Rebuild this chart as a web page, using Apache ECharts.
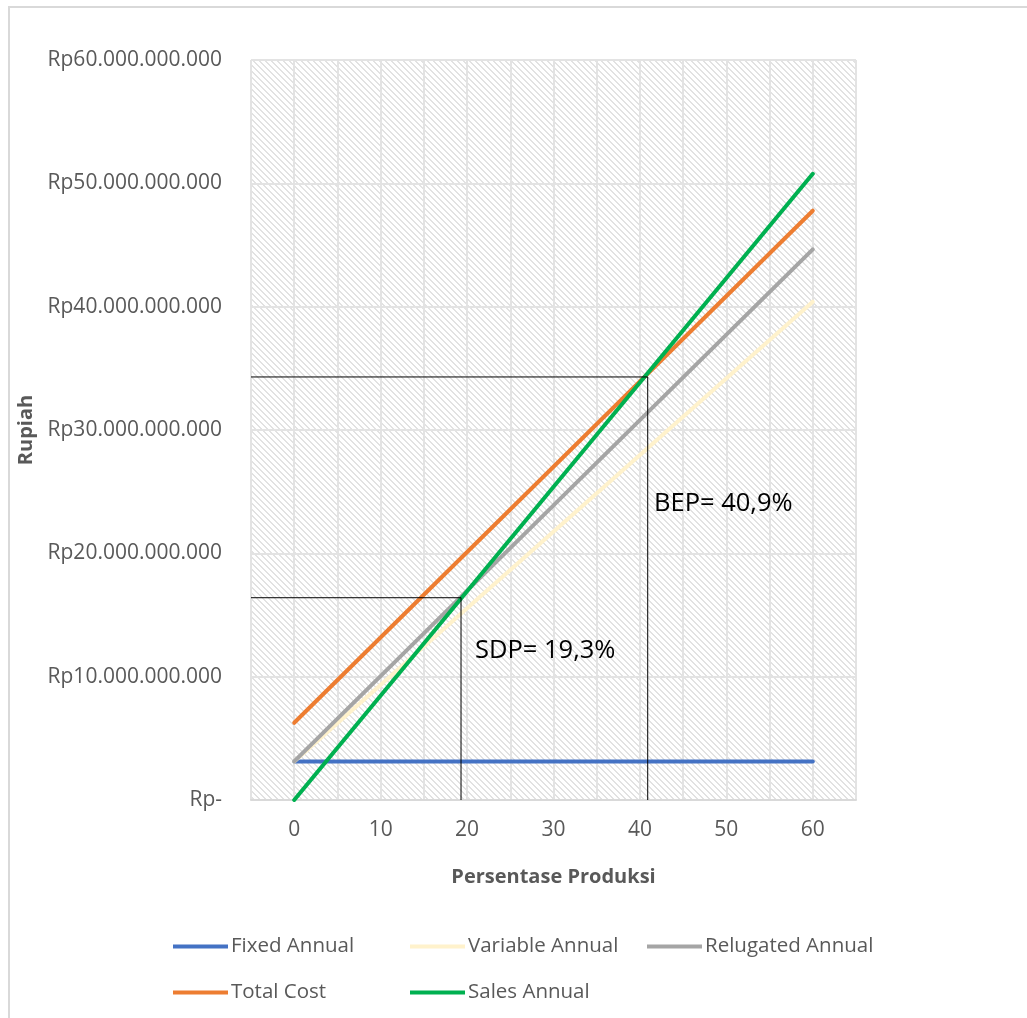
<!DOCTYPE html>
<html>
<head>
<meta charset="utf-8">
<script src="https://cdn.jsdelivr.net/npm/echarts@6/dist/echarts.min.js"></script>
<style>
  html, body { margin: 0; padding: 0; background: #fff; }
  #chart { width: 1027px; height: 1018px; }
</style>
</head>
<body>
<div id="chart"></div>
<script>
// Production share (%) at the two ends of each line
const produksi = [0, 60];

// Annual amounts in Rupiah
const fixedAnnual = [3.13e9, 3.13e9];
const variableAnnual = [3.13e9, 40.4e9];
const relugatedAnnual = [3.13e9, 44.65e9];
const totalCost = [6.26e9, 47.78e9];
const salesAnnual = [0, 50.77e9];

// Break-even and shutdown points: [% produksi, Rupiah]
const bep = [40.9, 34.3e9];
const sdp = [19.3, 16.4e9];

const seriesNames = ['Fixed Annual', 'Variable Annual', 'Relugated Annual', 'Total Cost', 'Sales Annual'];
const seriesValues = [fixedAnnual, variableAnnual, relugatedAnnual, totalCost, salesAnnual];
const seriesColors = ['#4472C4', '#FFF2CC', '#A5A5A5', '#ED7D31', '#00B050'];

const xMin = -5, xMax = 65;

function pairs(xs, ys) {
  return xs.map((x, i) => [x, ys[i]]);
}

function rupiah(v) {
  if (v === 0) return 'Rp-';
  const s = Math.round(v).toString();
  return 'Rp' + s.replace(/\B(?=(\d{3})+(?!\d))/g, '.');
}

// Diagonal hatch for the plot background
function hatch() {
  const c = document.createElement('canvas');
  c.width = 6; c.height = 6;
  const ctx = c.getContext('2d');
  ctx.fillStyle = '#ffffff';
  ctx.fillRect(0, 0, 6, 6);
  ctx.fillStyle = '#e2e2e2';
  for (let y = 0; y < 6; y++) {
    for (let x = 0; x < 6; x++) {
      if ((((x - y) % 6) + 6) % 6 < 2) ctx.fillRect(x, y, 1, 1);
    }
  }
  return c;
}

const font = '"Open Sans", "Noto Sans", sans-serif';
const textGrey = '#595959';

const series = seriesNames.map((name, i) => ({
  name: name,
  type: 'line',
  data: pairs(produksi, seriesValues[i]),
  showSymbol: false,
  symbol: 'none',
  lineStyle: { color: seriesColors[i], width: 4, cap: 'round' },
  itemStyle: { color: seriesColors[i] },
  silent: true,
  z: 3 + i
}));

function guide(pt) {
  return {
    type: 'line',
    data: [[xMin, pt[1]], [pt[0], pt[1]], [pt[0], 0]],
    showSymbol: false,
    symbol: 'none',
    lineStyle: { color: '#000', width: 1 },
    silent: true,
    z: 10
  };
}
series.push(guide(bep), guide(sdp));

// Legend laid out as a 3-column grid, one legend block per entry
const legendCols = [168, 405, 642];
const legendRows = [931, 977];
const legends = seriesNames.map((name, i) => ({
  left: legendCols[i % 3],
  top: legendRows[Math.floor(i / 3)],
  data: [name],
  icon: 'rect',
  itemWidth: 55,
  itemHeight: 4,
  selectedMode: false,
  textStyle: { fontFamily: font, fontSize: 20.5, color: textGrey, padding: [0, 0, 0, -2] }
}));

const chart = echarts.init(document.getElementById('chart'), null, { renderer: 'canvas' });
chart.setOption({
  backgroundColor: '#ffffff',
  animation: false,
  grid: {
    left: 251, right: 171, top: 60, bottom: 218,
    show: true,
    borderWidth: 0,
    backgroundColor: { image: hatch(), repeat: 'repeat' }
  },
  legend: legends,
  xAxis: {
    type: 'value',
    min: xMin, max: xMax, interval: 5,
    name: 'Persentase Produksi',
    nameLocation: 'middle',
    nameGap: 67,
    nameTextStyle: { fontFamily: font, fontSize: 20, fontWeight: 'bold', color: textGrey },
    axisLine: { show: true, lineStyle: { color: '#d9d9d9', width: 2 } },
    axisTick: { show: false },
    axisLabel: {
      fontFamily: font, fontSize: 21, color: textGrey, margin: 20,
      formatter: v => (v >= 0 && v <= 60 && v % 10 === 0) ? String(v) : ''
    },
    splitLine: { show: true, lineStyle: { color: '#e3e3e3', width: 2 } }
  },
  yAxis: {
    type: 'value',
    min: 0, max: 60e9, interval: 10e9,
    name: 'Rupiah',
    nameLocation: 'middle',
    nameGap: 207,
    nameRotate: 90,
    nameTextStyle: { fontFamily: font, fontSize: 20, fontWeight: 'bold', color: textGrey },
    axisLine: { show: false },
    axisTick: { show: false },
    axisLabel: { fontFamily: font, fontSize: 21, color: textGrey, margin: 29, formatter: rupiah },
    splitLine: { show: true, lineStyle: { color: '#e3e3e3', width: 2 } }
  },
  series: series,
  graphic: [
    {
      type: 'rect', silent: true, z: -1,
      shape: { x: 9, y: 7, width: 1100, height: 1100 },
      style: { fill: null, stroke: '#d9d9d9', lineWidth: 2 }
    },
    {
      type: 'text', left: 654, top: 491, z: 20,
      style: { text: 'BEP= 40,9%', fontFamily: font, fontSize: 25.5, fill: '#000' }
    },
    {
      type: 'text', left: 475, top: 638, z: 20,
      style: { text: 'SDP= 19,3%', fontFamily: font, fontSize: 25.5, fill: '#000' }
    }
  ]
});
</script>
</body>
</html>
